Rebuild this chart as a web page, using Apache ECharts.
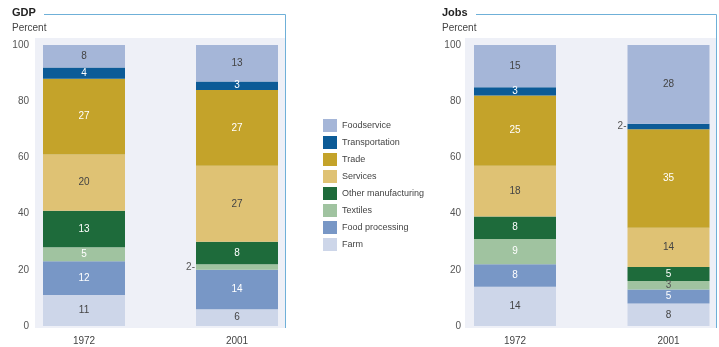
<!DOCTYPE html>
<html><head><meta charset="utf-8">
<script src="https://cdn.jsdelivr.net/npm/echarts@6/dist/echarts.min.js"></script>
<style>html,body{margin:0;padding:0;background:#fff}#c{width:719px;height:347px}</style>
</head><body><div id="c"></div>
<script>
const categories = ['1972', '2001'];
const seriesNames = ['Farm', 'Food processing', 'Textiles', 'Other manufacturing', 'Services', 'Trade', 'Transportation', 'Foodservice'];
// GDP shares (percent), 1972 and 2001
const gdpFarm = [11, 6];
const gdpFoodProcessing = [12, 14];
const gdpTextiles = [5, 2];
const gdpOtherManufacturing = [13, 8];
const gdpServices = [20, 27];
const gdpTrade = [27, 27];
const gdpTransportation = [4, 3];
const gdpFoodservice = [8, 13];
// Jobs shares (percent), 1972 and 2001
const jobsFarm = [14, 8];
const jobsFoodProcessing = [8, 5];
const jobsTextiles = [9, 3];
const jobsOtherManufacturing = [8, 5];
const jobsServices = [18, 14];
const jobsTrade = [25, 35];
const jobsTransportation = [3, 2];
const jobsFoodservice = [15, 28];
const yTicks = [0, 20, 40, 60, 80, 100];

const colors = {
  'Farm': '#cdd6e9', 'Food processing': '#7897c6', 'Textiles': '#a0c3a0',
  'Other manufacturing': '#1e6b3b', 'Services': '#dfc274', 'Trade': '#c4a32a',
  'Transportation': '#0c5b97', 'Foodservice': '#a5b6d8'
};
const labelColors = {
  'Farm': '#444', 'Food processing': '#fff', 'Textiles': '#fff',
  'Other manufacturing': '#fff', 'Services': '#444', 'Trade': '#fff',
  'Transportation': '#fff', 'Foodservice': '#444'
};
const gdpData = [gdpFarm, gdpFoodProcessing, gdpTextiles, gdpOtherManufacturing, gdpServices, gdpTrade, gdpTransportation, gdpFoodservice];
const jobsData = [jobsFarm, jobsFoodProcessing, jobsTextiles, jobsOtherManufacturing, jobsServices, jobsTrade, jobsTransportation, jobsFoodservice];

const font = 'Liberation Sans, Arial, sans-serif';

function makeItem(v, name) {
  const item = { value: v };
  if (v <= 2) {
    item.label = { position: 'left', formatter: '{c}-', color: '#555', distance: 1 };
  } else if (v <= 3 && name === 'Textiles') {
    item.label = { color: '#555' };
  }
  return item;
}

const series = [];
[gdpData, jobsData].forEach((set, gi) => {
  set.forEach((arr, i) => {
    const name = seriesNames[i];
    series.push({
      name: name, type: 'bar', stack: 'p' + gi,
      xAxisIndex: gi, yAxisIndex: gi, barWidth: 82, clip: false,
      itemStyle: { color: colors[name] },
      label: { show: true, position: 'inside', color: labelColors[name], fontSize: 10, fontFamily: font },
      data: arr.map(v => makeItem(v, name))
    });
  });
});

const chart = echarts.init(document.getElementById('c'));
const yAxisBase = {
  type: 'value', min: 0, max: 100, interval: 20,
  axisLine: { show: false }, axisTick: { show: false }, splitLine: { show: false },
  axisLabel: { color: '#555', fontSize: 10, fontFamily: font, margin: 6 }
};
const xAxisBase = {
  type: 'category', data: categories,
  axisLine: { show: false }, axisTick: { show: false },
  axisLabel: { color: '#444', fontSize: 10, fontFamily: font, margin: 10 }
};
chart.setOption({
  animation: false,
  textStyle: { fontFamily: font },
  graphic: [
    { type: 'rect', shape: { x: 35, y: 38, width: 250, height: 290 }, style: { fill: '#eef0f7' }, z: -10 },
    { type: 'rect', shape: { x: 465, y: 38, width: 251, height: 290 }, style: { fill: '#eef0f7' }, z: -10 },
    { type: 'polyline', shape: { points: [[44, 14.5], [285.5, 14.5], [285.5, 328]] }, style: { stroke: '#6fb0d8', lineWidth: 1, fill: null } },
    { type: 'polyline', shape: { points: [[476, 14.5], [716.5, 14.5], [716.5, 328]] }, style: { stroke: '#6fb0d8', lineWidth: 1, fill: null } },
    { type: 'text', left: 12, top: 7, style: { text: 'GDP', font: 'bold 11px ' + font, fill: '#222' } },
    { type: 'text', left: 12, top: 23, style: { text: 'Percent', font: '10px ' + font, fill: '#444' } },
    { type: 'text', left: 442, top: 7, style: { text: 'Jobs', font: 'bold 11px ' + font, fill: '#222' } },
    { type: 'text', left: 442, top: 23, style: { text: 'Percent', font: '10px ' + font, fill: '#444' } }
  ],
  legend: {
    orient: 'vertical', left: 318, top: 114,
    data: seriesNames.slice().reverse(),
    icon: 'rect', itemWidth: 14, itemHeight: 13, itemGap: 4,
    textStyle: { fontSize: 9, color: '#444', fontFamily: font },
    selectedMode: false
  },
  grid: [
    { left: 7.5, top: 45, width: 306, height: 281 },
    { left: 515, top: 45, width: 153.5, height: 281 }
  ],
  xAxis: [
    Object.assign({ gridIndex: 0 }, xAxisBase),
    Object.assign({ gridIndex: 1 }, xAxisBase, { boundaryGap: false })
  ],
  yAxis: [
    Object.assign({ gridIndex: 0, offset: -27.5 }, yAxisBase),
    Object.assign({ gridIndex: 1, offset: 50 }, yAxisBase, { axisLabel: Object.assign({}, yAxisBase.axisLabel, { margin: 4 }) })
  ],
  series: series
});
</script>
</body></html>
